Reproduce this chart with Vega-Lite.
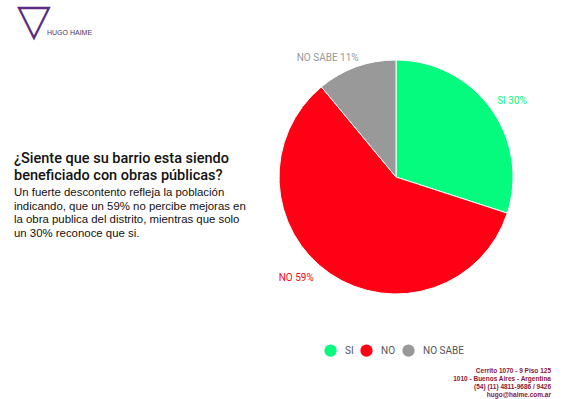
{
  "$schema": "https://vega.github.io/schema/vega-lite/v6.json",
  "background": "white",
  "padding": {"left": 14, "top": 0, "right": 5, "bottom": 0},
  "title": {
    "text": "▽",
    "subtitle": "⠀⠀⠀⠀⠀⠀HUGO HAIME",
    "anchor": "start",
    "frame": "group",
    "dx": -262,
    "offset": 7,
    "font": "DejaVu Sans",
    "fontSize": 44,
    "fontWeight": "bold",
    "color": "#5b2c83",
    "subtitleFont": "Liberation Sans",
    "subtitleFontSize": 7,
    "subtitleColor": "#4b3563",
    "subtitlePadding": -15
  },
  "spacing": 4,
  "vconcat": [
    {
      "width": 234,
      "height": 234,
      "title": {
        "text": ["¿Siente que su barrio esta siendo", "beneficiado con obras públicas?"],
        "subtitle": ["Un fuerte descontento refleja la población", "indicando, que un 59% no percibe mejoras en", "la obra publica del distrito, mientras que solo", "un 30% reconoce que si."],
        "anchor": "start",
        "frame": "group",
        "dx": -265,
        "dy": 193,
        "font": "Roboto",
        "fontSize": 14.5,
        "fontWeight": 500,
        "lineHeight": 17,
        "color": "#111111",
        "subtitleFont": "Liberation Sans",
        "subtitleFontSize": 11.4,
        "subtitleLineHeight": 13.7,
        "subtitleColor": "#111111",
        "subtitlePadding": 3
      },
      "data": {
        "values": [
          {"respuesta": "SI", "pct": 30, "orden": 1, "etiqueta": "SI 30%"},
          {"respuesta": "NO", "pct": 59, "orden": 2, "etiqueta": "NO 59%"},
          {"respuesta": "NO SABE", "pct": 11, "orden": 3, "etiqueta": "NO SABE 11%"}
        ]
      },
      "encoding": {
        "theta": {"field": "pct", "type": "quantitative", "stack": true},
        "order": {"field": "orden", "type": "quantitative"},
        "color": {
          "field": "respuesta",
          "type": "nominal",
          "scale": {"domain": ["SI", "NO", "NO SABE"], "range": ["#05fb7d", "#ff0015", "#999999"]},
          "legend": {
            "orient": "none",
            "legendX": 45,
            "legendY": 284,
            "direction": "horizontal",
            "title": null,
            "symbolType": "circle",
            "symbolSize": 150,
            "symbolStrokeWidth": 0,
            "labelFont": "Roboto",
            "labelFontSize": 10,
            "labelColor": "#555555",
            "labelOffset": 8,
            "columnPadding": 6
          }
        }
      },
      "layer": [
        {"mark": {"type": "arc", "outerRadius": 117, "stroke": "white", "strokeWidth": 1}},
        {
          "mark": {"type": "text", "radius": 125, "align": "left", "baseline": "middle", "font": "Roboto", "fontSize": 10, "dy": -3},
          "encoding": {"text": {"condition": {"test": "datum.respuesta === 'SI'", "field": "etiqueta"}, "value": ""}}
        },
        {
          "mark": {"type": "text", "radius": 125, "align": "right", "baseline": "middle", "font": "Roboto", "fontSize": 10, "dx": -12, "dy": -2},
          "encoding": {"text": {"condition": {"test": "datum.respuesta === 'NO'", "field": "etiqueta"}, "value": ""}}
        },
        {
          "mark": {"type": "text", "radius": 125, "align": "right", "baseline": "middle", "font": "Roboto", "fontSize": 10, "dx": 5, "dy": -1},
          "encoding": {"text": {"condition": {"test": "datum.respuesta === 'NO SABE'", "field": "etiqueta"}, "value": ""}}
        }
      ]
    },
    {
      "width": 272,
      "height": 1,
      "data": {"values": [{}]},
      "mark": {"type": "text"},
      "encoding": {"text": {"value": ""}},
      "title": {
        "text": ["Cerrito 1070 - 9 Piso 125", "1010 - Buenos Aires - Argentina", "(54) (11) 4811-9686 / 9426", "hugo@haime.com.ar"],
        "anchor": "end",
        "frame": "group",
        "offset": 0,
        "dy": 98,
        "font": "Liberation Sans",
        "fontSize": 6.5,
        "fontWeight": "bold",
        "lineHeight": 8,
        "color": "#8a1538"
      }
    }
  ],
  "config": {"view": {"stroke": null}}
}
